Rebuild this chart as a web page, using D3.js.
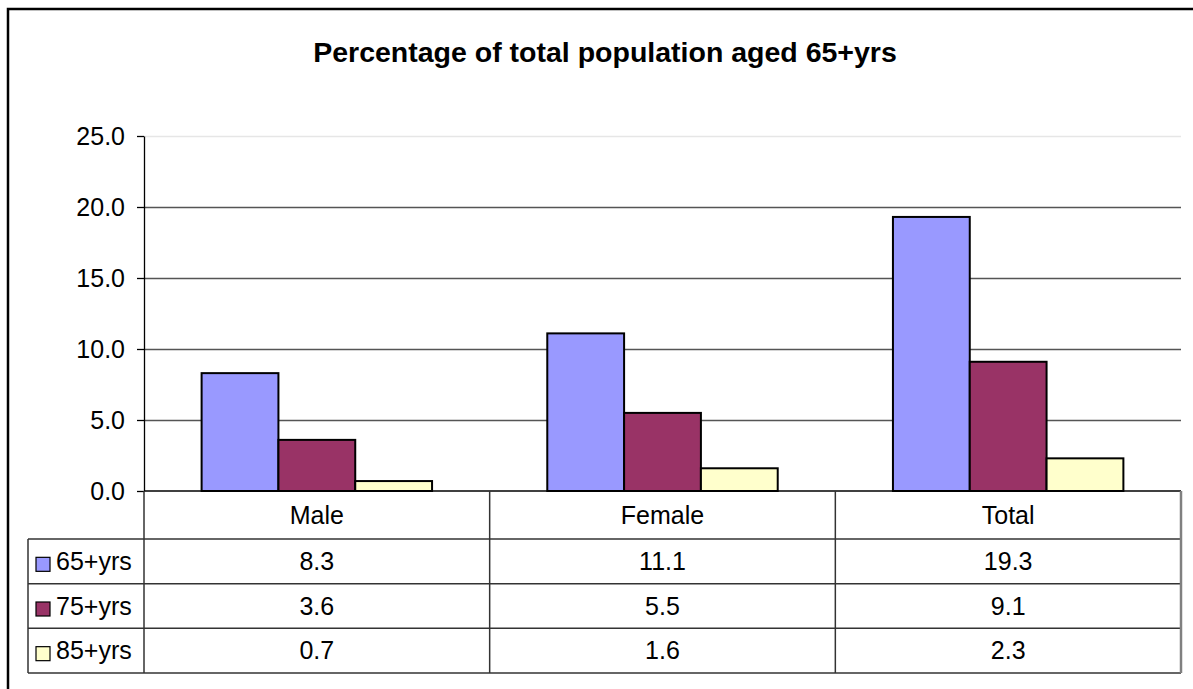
<!DOCTYPE html>
<html>
<head>
<meta charset="utf-8">
<script src="https://cdn.jsdelivr.net/npm/d3@7"></script>
<style>
  body { margin: 0; background: #fff; }
  text { font-family: "Liberation Sans", Arial, sans-serif; fill: #000; }
</style>
</head>
<body>
<div id="chart"></div>
<script>
////////////////////////////////////////////////////////////
//////////////////////// Data //////////////////////////////
////////////////////////////////////////////////////////////

var categories = ["Male", "Female", "Total"];
var seriesNames = ["65+yrs", "75+yrs", "85+yrs"];
var values65 = [8.3, 11.1, 19.3];
var values75 = [3.6, 5.5, 9.1];
var values85 = [0.7, 1.6, 2.3];
var yTicks = [0, 5, 10, 15, 20, 25];
var colors = ["#9999FF", "#993366", "#FFFFCC"];
var titleText = "Percentage of total population aged 65+yrs";

var seriesValues = [values65, values75, values85];

////////////////////////////////////////////////////////////
//////////////////////// Set-Up ////////////////////////////
////////////////////////////////////////////////////////////

var width = 1193, height = 689;
var plot = {left: 144, right: 1181, top: 136, bottom: 491};
var tableLeft = 28, tableBottom = 673, headerBottom = 539;
var fontSize = "25px";

var svg = d3.select("#chart").append("svg")
  .attr("width", width)
  .attr("height", height);

// outer chart border (right and bottom fall outside the picture)
svg.append("rect")
  .attr("x", 8).attr("y", 9)
  .attr("width", 1200).attr("height", 700)
  .style("fill", "none")
  .style("stroke", "#000")
  .style("stroke-width", 2.5);

svg.append("text")
  .attr("x", 605)
  .attr("y", 62)
  .attr("text-anchor", "middle")
  .style("font-size", "28.5px")
  .style("font-weight", "bold")
  .text(titleText);

////////////////////////////////////////////////////////////
///////////////////////// Scales ///////////////////////////
////////////////////////////////////////////////////////////

var x0 = d3.scaleBand()
  .domain(categories)
  .range([plot.left, plot.right])
  .padding(0);

// gap width 150% of a bar -> 0.75 bar on each side
var x1 = d3.scaleBand()
  .domain(seriesNames)
  .range([0, x0.bandwidth()])
  .paddingInner(0)
  .paddingOuter(0.75);

var y = d3.scaleLinear()
  .domain([0, 25])
  .range([plot.bottom, plot.top]);

var rows = d3.scaleBand()
  .domain(seriesNames)
  .range([headerBottom, tableBottom]);

////////////////////////////////////////////////////////////
//////////////////////// Gridlines /////////////////////////
////////////////////////////////////////////////////////////

var grid = svg.append("g")
  .attr("transform", "translate(" + plot.left + ",0)")
  .call(d3.axisRight(y)
    .tickValues(yTicks.filter(function(d) { return d > 0; }))
    .tickSize(plot.right - plot.left)
    .tickFormat(""));
grid.select(".domain").remove();
grid.selectAll(".tick line")
  .style("stroke", function(d) { return d === 25 ? "#e6e6e6" : "#555"; })
  .style("stroke-width", 1.5);

////////////////////////////////////////////////////////////
////////////////////////// Bars ////////////////////////////
////////////////////////////////////////////////////////////

var catGroups = svg.selectAll("g.cat")
  .data(categories)
  .enter().append("g")
  .attr("class", "cat")
  .attr("transform", function(d) { return "translate(" + x0(d) + ",0)"; });

catGroups.selectAll("rect")
  .data(function(c, ci) {
    return seriesNames.map(function(s, si) { return {series: s, si: si, value: seriesValues[si][ci]}; });
  })
  .enter().append("rect")
  .attr("x", function(d) { return x1(d.series); })
  .attr("y", function(d) { return y(d.value); })
  .attr("width", x1.bandwidth())
  .attr("height", function(d) { return y(0) - y(d.value); })
  .style("fill", function(d) { return colors[d.si]; })
  .style("stroke", "#000")
  .style("stroke-width", 2);

////////////////////////////////////////////////////////////
////////////////////////// Y axis //////////////////////////
////////////////////////////////////////////////////////////

var yAxis = svg.append("g")
  .attr("transform", "translate(" + plot.left + ",0)")
  .call(d3.axisLeft(y)
    .tickValues(yTicks)
    .tickSize(7)
    .tickSizeOuter(0)
    .tickPadding(12)
    .tickFormat(d3.format(".1f")));
yAxis.select(".domain").style("stroke", "#000").style("stroke-width", 1.3);
yAxis.selectAll(".tick line").style("stroke", "#000").style("stroke-width", 1.3);
yAxis.selectAll(".tick text")
  .style("font-size", fontSize)
  .style("font-family", "'Liberation Sans', Arial, sans-serif")
  .style("fill", "#000");

////////////////////////////////////////////////////////////
/////////////////////// Data table /////////////////////////
////////////////////////////////////////////////////////////

var lineColor = "#333";
var table = svg.append("g").attr("class", "table");

// horizontal rules
table.append("line")
  .attr("x1", plot.left).attr("x2", plot.right)
  .attr("y1", plot.bottom).attr("y2", plot.bottom)
  .style("stroke", "#000").style("stroke-width", 1.5);
table.selectAll("line.row")
  .data(seriesNames)
  .enter().append("line")
  .attr("class", "row")
  .attr("x1", tableLeft).attr("x2", plot.right)
  .attr("y1", function(d) { return rows(d); })
  .attr("y2", function(d) { return rows(d); })
  .style("stroke", lineColor).style("stroke-width", 1.5);
table.append("line")
  .attr("x1", tableLeft).attr("x2", plot.right)
  .attr("y1", tableBottom).attr("y2", tableBottom)
  .style("stroke", lineColor).style("stroke-width", 1.5);

// vertical rules
table.append("line")
  .attr("x1", tableLeft).attr("x2", tableLeft)
  .attr("y1", headerBottom).attr("y2", tableBottom)
  .style("stroke", lineColor).style("stroke-width", 1.5);
table.selectAll("line.col")
  .data(categories)
  .enter().append("line")
  .attr("class", "col")
  .attr("x1", function(d) { return x0(d); })
  .attr("x2", function(d) { return x0(d); })
  .attr("y1", plot.bottom).attr("y2", tableBottom)
  .style("stroke", lineColor).style("stroke-width", 1.5);
table.append("line")
  .attr("x1", plot.right).attr("x2", plot.right)
  .attr("y1", plot.bottom).attr("y2", tableBottom)
  .style("stroke", "#808080").style("stroke-width", 2.5);

// category headers
table.selectAll("text.cat")
  .data(categories)
  .enter().append("text")
  .attr("class", "cat")
  .attr("x", function(d) { return x0(d) + x0.bandwidth() / 2; })
  .attr("y", (plot.bottom + headerBottom) / 2)
  .attr("dy", "0.35em")
  .attr("text-anchor", "middle")
  .style("font-size", fontSize)
  .text(function(d) { return d; });

// legend keys + series names
var rowG = table.selectAll("g.srow")
  .data(seriesNames)
  .enter().append("g")
  .attr("class", "srow")
  .attr("transform", function(d) { return "translate(0," + (rows(d) + rows.bandwidth() / 2) + ")"; });

rowG.append("rect")
  .attr("x", 36).attr("y", -4)
  .attr("width", 14).attr("height", 14)
  .style("fill", function(d, i) { return colors[i]; })
  .style("stroke", "#000")
  .style("stroke-width", 1.2);

rowG.append("text")
  .attr("x", 56)
  .attr("dy", "0.35em")
  .style("font-size", fontSize)
  .text(function(d) { return d; });

// values
var fmt = d3.format(".1f");
rowG.selectAll("text.val")
  .data(function(d, si) { return seriesValues[si]; })
  .enter().append("text")
  .attr("class", "val")
  .attr("x", function(d, ci) { return x0(categories[ci]) + x0.bandwidth() / 2; })
  .attr("dy", "0.35em")
  .attr("text-anchor", "middle")
  .style("font-size", fontSize)
  .text(function(d) { return fmt(d); });
</script>
</body>
</html>
